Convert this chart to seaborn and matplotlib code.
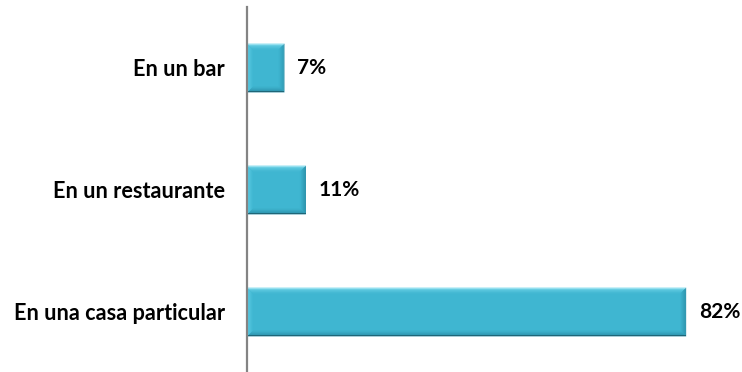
import matplotlib
matplotlib.use("Agg")
import matplotlib.pyplot as plt
from matplotlib.patches import Polygon
from matplotlib.colors import to_rgb
import seaborn as sns
import pandas as pd
import numpy as np

categories = ["En un bar", "En un restaurante", "En una casa particular"]
values = [7, 11, 82]
value_labels = ["7%", "11%", "82%"]

BAR_COLOR = "#3FB6D1"
BEVEL_TOP = "#80DDF0"
BEVEL_LEFT = "#5CCBE3"
BEVEL_RIGHT = "#2A8FA8"
BEVEL_BOTTOM = "#24809A"
EDGE_DARK = "#1F6677"

sns.set_style("white")
plt.rcParams["font.family"] = ["Lato", "DejaVu Sans"]

W, H, DPI = 742, 372, 100
fig = plt.figure(figsize=(W / DPI, H / DPI), dpi=DPI)
ax = fig.add_axes([247 / W, -1 / H, (729 - 247) / W, 366 / H])

df = pd.DataFrame({"lugar": categories, "pct": values})
sns.barplot(data=df, y="lugar", x="pct", orient="h", color=BAR_COLOR,
            saturation=1, width=0.4, ax=ax)

ax.set_xlim(0, 90)
ax.set_ylim(2.5, -0.5)
ax.set_xlabel("")
ax.set_ylabel("")
ax.set_xticks([])
ax.tick_params(axis="y", length=0, pad=16)
for lbl in ax.get_yticklabels():
    lbl.set_fontweight("bold")
    lbl.set_fontsize(15.6)
    lbl.set_color("black")

for side in ["top", "right", "bottom"]:
    ax.spines[side].set_visible(False)
ax.spines["left"].set_color("#848484")
ax.spines["left"].set_linewidth(1.6)
ax.spines["left"].set_zorder(5)


def mix(c_out, c_in, t):
    a, b = np.array(to_rgb(c_out)), np.array(to_rgb(c_in))
    return tuple(a + (b - a) * t)


def facet(outer0, outer1, inner0, inner1, col, steps=6):
    # graded strips from the outer edge towards the bar face
    o0, o1, i0, i1 = map(np.array, (outer0, outer1, inner0, inner1))
    for k in range(steps):
        t0, t1 = k / steps, (k + 1) / steps
        pts = [o0 + (i0 - o0) * t0, o1 + (i1 - o1) * t0,
               o1 + (i1 - o1) * t1, o0 + (i0 - o0) * t1]
        ax.add_patch(Polygon(pts, closed=True,
                             facecolor=mix(col, BAR_COLOR, (k + 0.5) / steps),
                             edgecolor="none", transform=None, zorder=3))


# Bevelled look on each bar: light top/left facets, darker right/bottom facets
fig.canvas.draw()
bev = 6.0  # bevel width in pixels
for bar in ax.patches:
    x0, y0 = bar.get_x(), bar.get_y()
    x1, y1 = x0 + bar.get_width(), y0 + bar.get_height()
    (left, top), (right, bottom) = ax.transData.transform([(x0, y0), (x1, y1)])
    iL, iR = left + bev, right - bev
    iT, iB = top - bev, bottom + bev
    facet((left, top), (right, top), (iL, iT), (iR, iT), BEVEL_TOP)
    facet((left, bottom), (right, bottom), (iL, iB), (iR, iB), BEVEL_BOTTOM)
    facet((left, top), (left, bottom), (iL, iT), (iL, iB), BEVEL_LEFT)
    facet((right, top), (right, bottom), (iR, iT), (iR, iB), BEVEL_RIGHT)
    ax.add_patch(Polygon([(left, bottom + 1.2), (right, bottom + 1.2),
                          (right, bottom), (left, bottom)], closed=True,
                         facecolor=EDGE_DARK, edgecolor="none", transform=None,
                         zorder=3))

ax.bar_label(ax.containers[0], labels=value_labels, padding=9,
             fontsize=15, fontweight="bold", color="black")

fig.savefig("out.png", dpi=DPI)
